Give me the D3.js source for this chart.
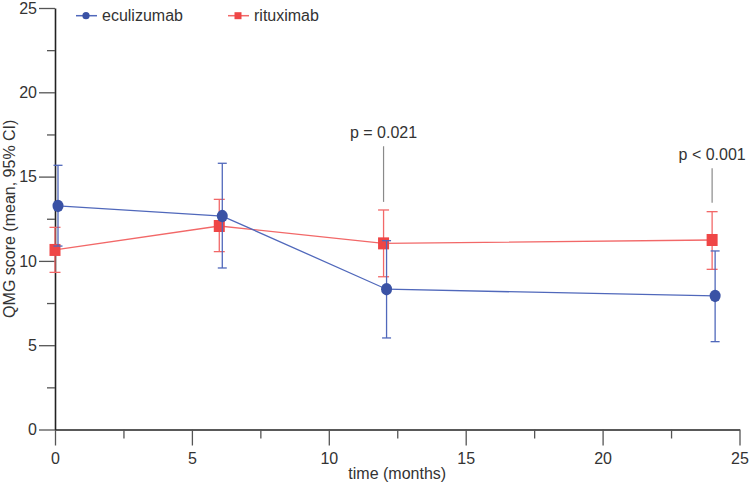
<!DOCTYPE html>
<html><head><meta charset="utf-8">
<script src="https://cdn.jsdelivr.net/npm/d3@7"></script>
<style>
html,body{margin:0;padding:0;background:#fff;}
text{font-family:"Liberation Sans",Arial,sans-serif;}
</style></head>
<body><svg id="chart" width="749" height="487"></svg>
<script>
// ---- data ----
const months = [0, 6, 12, 24];
const eculizumabMean  = [13.26, 12.66, 8.32, 7.92];
const eculizumabLower = [10.88, 9.58, 5.43, 5.21];
const eculizumabUpper = [15.67, 15.79, 11.20, 10.59];
const rituximabMean  = [10.65, 12.07, 11.04, 11.24];
const rituximabLower = [9.32, 10.55, 9.06, 9.50];
const rituximabUpper = [11.99, 13.65, 13.02, 12.92];
const xTicks = [0, 5, 10, 15, 20, 25];
const yTicks = [0, 5, 10, 15, 20, 25];
const pLabels = ["p = 0.021", "p < 0.001"];
const pMonths = [12, 24];
const pLineTop = [16.8, 15.5];
const pLineBottom = [13.5, 13.45];

const svg = d3.select("#chart");
const x = d3.scaleLinear().domain([0, 25]).range([55, 739.5]);
const y = d3.scaleLinear().domain([0, 25]).range([429.5, 8]);

const series = [
  {name: "rituximab", mean: rituximabMean, lo: rituximabLower, hi: rituximabUpper,
   line: "#f26868", mark: "#ef4646", shape: "square", dx: 0, cap: 5.5},
  {name: "eculizumab", mean: eculizumabMean, lo: eculizumabLower, hi: eculizumabUpper,
   line: "#5068bb", mark: "#3a52a5", shape: "circle", dx: 3, cap: 4.5}
];

// axes
const xAxis = d3.axisBottom(x).tickValues(xTicks).tickSize(16).tickPadding(3).tickSizeOuter(0);
const gx = svg.append("g").attr("transform", "translate(0,429.5)").call(xAxis);
const xMinor = d3.axisBottom(x).tickValues(d3.range(2.5, 25, 5)).tickSize(9).tickFormat("").tickSizeOuter(0);
const gxm = svg.append("g").attr("transform", "translate(0,429.5)").call(xMinor);
const yAxis = d3.axisLeft(y).tickValues(yTicks).tickSize(16).tickPadding(2).tickSizeOuter(0);
const gy = svg.append("g").attr("transform", "translate(55,0)").call(yAxis);
const yMinor = d3.axisLeft(y).tickValues(d3.range(2.5, 25, 5)).tickSize(8).tickFormat("").tickSizeOuter(0);
const gym = svg.append("g").attr("transform", "translate(55,0)").call(yMinor);
[gx, gxm, gy, gym].forEach(g => {
  g.select(".domain").attr("stroke", "#222").attr("stroke-width", 1.6);
  g.selectAll(".tick line").attr("stroke", "#555").attr("stroke-width", 1.3);
  g.selectAll(".tick text").attr("fill", "#333").style("font-size", "16px")
   .style("font-family", "'Liberation Sans', Arial, sans-serif");
});
gxm.select(".domain").remove(); gym.select(".domain").remove();
gx.selectAll(".tick text").attr("dy", "0.95em");

svg.append("text").attr("x", x(12.5)).attr("y", 479).attr("text-anchor", "middle")
  .attr("fill", "#333").style("font-size", "16px").text("time (months)");
svg.append("text").attr("transform", `translate(15,${(y(0)+y(25))/2}) rotate(-90)`)
  .attr("text-anchor", "middle").attr("fill", "#333").style("font-size", "16px")
  .text("QMG score (mean, 95% CI)");

// p-value annotations
pLabels.forEach((lab, i) => {
  svg.append("line").attr("x1", x(pMonths[i])).attr("x2", x(pMonths[i]))
    .attr("y1", y(pLineTop[i])).attr("y2", y(pLineBottom[i]))
    .attr("stroke", "#8a8a8a").attr("stroke-width", 1.2);
  svg.append("text").attr("x", x(pMonths[i])).attr("y", y(pLineTop[i]) - 8)
    .attr("text-anchor", "middle").attr("fill", "#333").style("font-size", "16px").text(lab);
});

// series
series.forEach(s => {
  const g = svg.append("g");
  const pts = months.map((m, i) => ({m, v: s.mean[i], lo: s.lo[i], hi: s.hi[i]}));
  const px = d => x(d.m) + s.dx;
  g.append("path").datum(pts)
    .attr("d", d3.line().x(px).y(d => y(d.v)))
    .attr("fill", "none").attr("stroke", s.line).attr("stroke-width", 1.3);
  const eb = g.selectAll(".eb").data(pts).enter().append("g");
  eb.append("line").attr("x1", px).attr("x2", px).attr("y1", d => y(d.lo)).attr("y2", d => y(d.hi))
    .attr("stroke", s.line).attr("stroke-width", 1.3);
  eb.append("line").attr("x1", d => px(d) - s.cap).attr("x2", d => px(d) + s.cap)
    .attr("y1", d => y(d.lo)).attr("y2", d => y(d.lo)).attr("stroke", s.line).attr("stroke-width", 1.3);
  eb.append("line").attr("x1", d => px(d) - s.cap).attr("x2", d => px(d) + s.cap)
    .attr("y1", d => y(d.hi)).attr("y2", d => y(d.hi)).attr("stroke", s.line).attr("stroke-width", 1.3);
  if (s.shape === "circle") {
    g.selectAll(".mk").data(pts).enter().append("ellipse")
      .attr("cx", px).attr("cy", d => y(d.v)).attr("rx", 5.5).attr("ry", 6.2).attr("fill", s.mark);
  } else {
    g.selectAll(".mk").data(pts).enter().append("rect")
      .attr("x", d => px(d) - 5.5).attr("y", d => y(d.v) - 6).attr("width", 11).attr("height", 12)
      .attr("fill", s.mark);
  }
});

// legend
const legend = [
  {name: "eculizumab", x0: 76, line: "#5068bb", mark: "#3a52a5", shape: "circle"},
  {name: "rituximab", x0: 228, line: "#f26868", mark: "#ef4646", shape: "square"}
];
legend.forEach(l => {
  const ly = 15.7;
  svg.append("line").attr("x1", l.x0).attr("x2", l.x0 + 21).attr("y1", ly).attr("y2", ly)
    .attr("stroke", l.line).attr("stroke-width", 1.5);
  if (l.shape === "circle") svg.append("circle").attr("cx", l.x0 + 10).attr("cy", ly).attr("r", 3.6).attr("fill", l.mark);
  else svg.append("rect").attr("x", l.x0 + 6.5).attr("y", ly - 3.5).attr("width", 7).attr("height", 7).attr("fill", l.mark);
  svg.append("text").attr("x", l.x0 + 26).attr("y", ly).attr("dy", "0.36em")
    .attr("fill", "#333").style("font-size", "16px").text(l.name);
});
</script></body></html>
